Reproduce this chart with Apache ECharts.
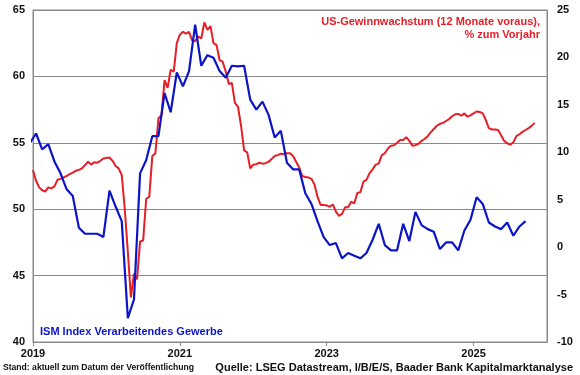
<!DOCTYPE html>
<html>
<head>
<meta charset="utf-8">
<script src="https://cdn.jsdelivr.net/npm/echarts@6/dist/echarts.min.js"></script>
<style>
html,body{margin:0;padding:0;background:#fff;}
#c{width:580px;height:375px;}
</style>
</head>
<body>
<div id="c"></div>
<script>
// ---- DATA ----
// ISM Index Verarbeitendes Gewerbe, monthly, starting Dec 2018
const ismStartYear = 2018, ismStartMonth = 12;
const ismValues = [
  55.0,
  55.7, 54.5, 54.9, 53.6, 52.7, 51.5, 51.0, 48.6, 48.15, 48.15, 48.15, 47.9,
  51.4, 50.2, 49.1, 41.8, 43.2, 52.7, 53.7, 55.5, 55.5, 58.75, 57.3, 60.3,
  59.25, 60.4, 63.9, 60.8, 61.6, 61.4, 60.4, 59.9, 60.8, 60.75, 60.8, 58.25,
  57.5, 58.1, 57.1, 55.4, 55.9, 53.5, 53.0, 53.0, 51.2, 50.4, 49.1, 47.9,
  47.3, 47.45, 46.3, 46.7, 46.5, 46.3, 46.7, 47.7, 48.9, 47.3, 46.9, 46.9,
  48.9, 47.6, 49.8, 48.8, 48.5, 48.3, 47.0, 47.5, 47.5, 46.9, 48.4, 49.2,
  50.9, 50.4, 49.0, 48.7, 48.5, 49.0, 48.0, 48.7, 49.1
];
// US-Gewinnwachstum (12 Monate voraus), % zum Vorjahr, semi-monthly from 1 Jan 2019
const gewinnStartYear = 2019;
const gewinnValues = [
  8.1, 7.0, 6.3, 6.0, 5.85, 6.3, 6.2, 6.4, 7.1, 7.2, 7.35, 7.5,
  7.7, 7.85, 8.05, 8.15, 8.3, 8.65, 9.0, 8.7, 8.95, 8.9, 9.1, 9.35,
  9.4, 9.45, 9.1, 8.55, 8.3, 7.6, 4.0, -0.5, -5.3, -2.8, -3.4, 0.6,
  0.7, 5.1, 5.3, 9.6, 9.9, 13.6, 13.9, 17.6, 16.8, 18.7, 18.5, 21.5,
  22.4, 22.7, 22.5, 22.7, 21.8, 21.7, 22.2, 22.0, 23.7, 22.9, 23.3, 21.5,
  21.3, 19.7, 19.55, 18.5, 17.2, 17.3, 15.2, 14.8, 12.8, 10.2, 10.0, 8.3,
  8.7, 8.75, 8.9, 8.8, 8.85, 9.0, 9.3, 9.6, 9.7, 9.85, 9.8, 9.9,
  9.9, 9.6, 9.0, 8.4, 7.5, 7.4, 7.35, 7.2, 6.6, 5.3, 4.45, 4.45,
  4.4, 4.25, 4.5, 3.75, 3.3, 3.5, 4.2, 4.2, 4.8, 4.6, 5.7, 5.8,
  6.9, 7.1, 7.8, 8.2, 8.7, 8.8, 9.7, 9.9, 10.4, 10.7, 10.75, 11.0,
  11.3, 11.3, 11.6, 11.2, 10.7, 10.75, 10.9, 11.2, 11.4, 11.7, 12.1, 12.45,
  12.8, 13.0, 13.1, 13.3, 13.5, 13.8, 14.0, 14.05, 13.85, 14.1, 13.75, 13.9,
  14.1, 14.3, 14.25, 14.1, 13.4, 12.55, 12.4, 12.4, 12.35, 11.8, 11.2, 10.95,
  10.8, 11.05, 11.7, 11.9, 12.15, 12.35, 12.55, 12.8, 13.1
];
const xTicks = [2019, 2021, 2023, 2025];
const leftTicks = [40, 45, 50, 55, 60, 65];
const rightTicks = [-10, -5, 0, 5, 10, 15, 20, 25];

// ---- BUILD ----
const ismData = ismValues.map((v, i) => {
  const mIdx = (ismStartMonth - 1) + i;
  return [ismStartYear + (mIdx + 0.5) / 12, v];
});
const gewinnData = gewinnValues.map((v, h) => [gewinnStartYear + h / 24, v]);

const RED = '#e61e26';
const BLUE = '#0c14c8';
const GRID = '#8a8a8a';
const FONT = '"Liberation Sans", Arial, sans-serif';

const chart = echarts.init(document.getElementById('c'), null, {renderer: 'canvas'});
chart.setOption({
  animation: false,
  backgroundColor: '#fff',
  grid: {left: 33, right: 33, top: 10, bottom: 33, show: true, borderColor: GRID, borderWidth: 1},
  graphic: [
    {type: 'text', x: 540, y: 16, z: 10,
     style: {text: 'US-Gewinnwachstum (12 Monate voraus),\n% zum Vorjahr', align: 'right', verticalAlign: 'top',
       fill: RED, font: 'bold 11px "Liberation Sans", Arial, sans-serif', lineHeight: 12.5}},
    {type: 'text', x: 40, y: 332, z: 10,
     style: {text: 'ISM Index Verarbeitendes Gewerbe', align: 'left', verticalAlign: 'middle',
       fill: BLUE, font: 'bold 11px "Liberation Sans", Arial, sans-serif'}},
    {type: 'text', x: 3, y: 368, z: 10,
     style: {text: 'Stand: aktuell zum Datum der Veröffentlichung', align: 'left', verticalAlign: 'middle',
       fill: '#111', font: 'bold 8.6px "Liberation Sans", Arial, sans-serif'}},
    {type: 'text', x: 573, y: 368, z: 10,
     style: {text: 'Quelle: LSEG Datastream, I/B/E/S, Baader Bank Kapitalmarktanalyse', align: 'right', verticalAlign: 'middle',
       fill: '#111', font: 'bold 11px "Liberation Sans", Arial, sans-serif'}}
  ],
  xAxis: {
    type: 'value', min: xTicks[0], max: 2026, interval: xTicks[1] - xTicks[0],
    axisLine: {show: true, onZero: false, lineStyle: {color: GRID, width: 1}},
    axisTick: {show: true, length: 4, lineStyle: {color: GRID}},
    splitLine: {show: false},
    axisLabel: {showMaxLabel: false, color: '#111', fontSize: 11, fontWeight: 'bold', fontFamily: FONT, margin: 6,
      formatter: v => xTicks.indexOf(Math.round(v)) >= 0 ? String(Math.round(v)) : ''}
  },
  yAxis: [
    {type: 'value', min: leftTicks[0], max: leftTicks[leftTicks.length - 1], interval: 5, position: 'left',
     axisLine: {show: true, onZero: false, lineStyle: {color: GRID}}, axisTick: {show: false},
     splitLine: {show: true, lineStyle: {color: GRID, width: 1}},
     axisLabel: {color: '#111', fontSize: 11, fontWeight: 'bold', fontFamily: FONT, margin: 8}},
    {type: 'value', min: rightTicks[0], max: rightTicks[rightTicks.length - 1], interval: 5, position: 'right',
     axisLine: {show: true, onZero: false, lineStyle: {color: GRID}}, axisTick: {show: false},
     splitLine: {show: false},
     axisLabel: {color: '#111', fontSize: 11, fontWeight: 'bold', fontFamily: FONT, margin: 10, align: 'left'}}
  ],
  series: [
    {type: 'line', name: 'US-Gewinnwachstum', yAxisIndex: 1, data: gewinnData, showSymbol: false, symbol: 'none',
     lineStyle: {color: RED, width: 2}, clip: true, z: 2},
    {type: 'line', name: 'ISM', yAxisIndex: 0, data: ismData, showSymbol: false, symbol: 'none',
     lineStyle: {color: BLUE, width: 2.2}, clip: true, z: 3}
  ]
});
</script>
</body>
</html>
